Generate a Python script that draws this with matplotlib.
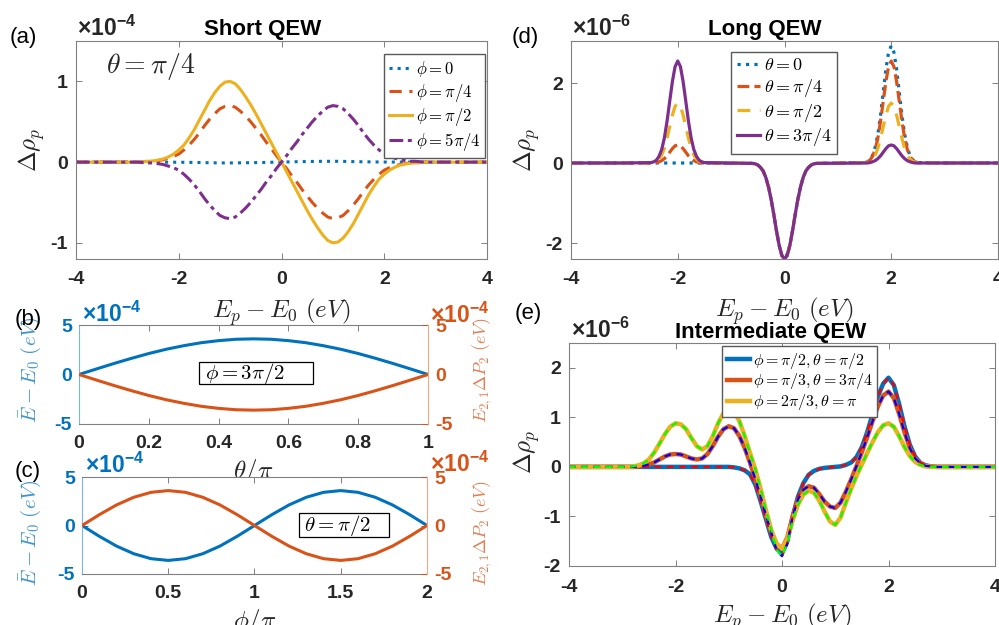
import numpy as np
import matplotlib.pyplot as plt
from matplotlib.patches import Rectangle

plt.rcParams['font.family'] = ['Liberation Sans', 'DejaVu Sans']
plt.rcParams['font.weight'] = 'bold'
plt.rcParams['mathtext.fontset'] = 'cm'
plt.rcParams['mathtext.rm'] = 'Liberation Sans'
plt.rcParams['mathtext.bf'] = 'Liberation Sans:bold'
plt.rcParams['axes.unicode_minus'] = False

BLUE, ORANGE, YELLOW, PURPLE = '#0072BD', '#D95319', '#EDB120', '#7E2F8E'
GRAY = '0.5'
INK = '#262626'

# ---------------- (a) short QEW, theta = pi/4   (units 1e-4)
e_a = np.concatenate([[-4], np.linspace(-3, 3, 61), [4]])
a_phi_0 = [0] + [
    0, 0, 0, 0, 0, 0, 0, 0, -0.001, -0.001,
    -0.002, -0.002, -0.003, -0.004, -0.005, -0.006, -0.008, -0.009, -0.01, -0.01,
    -0.01, -0.01, -0.009, -0.008, -0.007, -0.006, -0.005, -0.004, -0.002, -0.001,
    0,
    0.002, 0.003, 0.005, 0.006, 0.007, 0.008, 0.009, 0.01, 0.01, 0.01,
    0.01, 0.009, 0.008, 0.006, 0.005, 0.004, 0.003, 0.002, 0.002, 0.001,
    0.001, 0.001, 0, 0, 0, 0, 0, 0, 0, 0] + [0]
a_phi_pi4 = [0] + [
    0, 0, 0, 0.005, 0.01, 0.01, 0.02, 0.03, 0.05, 0.07,
    0.10, 0.15, 0.21, 0.28, 0.36, 0.45, 0.53, 0.60, 0.66, 0.69,
    0.70, 0.68, 0.63, 0.57, 0.50, 0.42, 0.34, 0.25, 0.17, 0.08,
    0,
    -0.08, -0.17, -0.25, -0.34, -0.42, -0.50, -0.57, -0.63, -0.68, -0.70,
    -0.69, -0.66, -0.60, -0.53, -0.45, -0.36, -0.28, -0.21, -0.15, -0.10,
    -0.07, -0.05, -0.03, -0.02, -0.01, -0.01, -0.005, 0, 0, 0] + [0]
a_phi_pi2 = [0] + [
    0, 0, 0, 0.005, 0.01, 0.015, 0.025, 0.04, 0.065, 0.10,
    0.15, 0.21, 0.30, 0.40, 0.52, 0.64, 0.76, 0.86, 0.94, 0.99,
    1.00, 0.97, 0.90, 0.81, 0.71, 0.60, 0.48, 0.36, 0.24, 0.12,
    0,
    -0.12, -0.24, -0.36, -0.48, -0.60, -0.71, -0.81, -0.90, -0.97, -1.00,
    -0.99, -0.94, -0.86, -0.76, -0.64, -0.52, -0.40, -0.30, -0.21, -0.15,
    -0.10, -0.065, -0.04, -0.025, -0.015, -0.01, -0.005, 0, 0, 0] + [0]
a_phi_5pi4 = [0] + [
    0, 0, 0, -0.005, -0.01, -0.01, -0.02, -0.03, -0.05, -0.07,
    -0.10, -0.15, -0.21, -0.28, -0.36, -0.45, -0.53, -0.60, -0.66, -0.69,
    -0.70, -0.68, -0.63, -0.57, -0.50, -0.42, -0.34, -0.25, -0.17, -0.08,
    0,
    0.08, 0.17, 0.25, 0.34, 0.42, 0.50, 0.57, 0.63, 0.68, 0.70,
    0.69, 0.66, 0.60, 0.53, 0.45, 0.36, 0.28, 0.21, 0.15, 0.10,
    0.07, 0.05, 0.03, 0.02, 0.01, 0.01, 0.005, 0, 0, 0] + [0]

# ---------------- (b) phi = 3pi/2 and (c) theta = pi/2   (units 1e-4)
theta_b = np.linspace(0, 1, 21)
b_energy = [0, 0.56, 1.11, 1.63, 2.12, 2.55, 2.91, 3.21, 3.42, 3.56, 3.60,
            3.56, 3.42, 3.21, 2.91, 2.55, 2.12, 1.63, 1.11, 0.56, 0]
b_dipole = [0, -0.56, -1.11, -1.63, -2.12, -2.55, -2.91, -3.21, -3.42, -3.56, -3.60,
            -3.56, -3.42, -3.21, -2.91, -2.55, -2.12, -1.63, -1.11, -0.56, 0]
phi_c = np.linspace(0, 2, 21)
c_energy = [0, -1.11, -2.12, -2.91, -3.42, -3.60, -3.42, -2.91, -2.12, -1.11, 0,
            1.11, 2.12, 2.91, 3.42, 3.60, 3.42, 2.91, 2.12, 1.11, 0]
c_dipole = [0, 1.11, 2.12, 2.91, 3.42, 3.60, 3.42, 2.91, 2.12, 1.11, 0,
            -1.11, -2.12, -2.91, -3.42, -3.60, -3.42, -2.91, -2.12, -1.11, 0]

# ---------------- (d) long QEW   (units 1e-6)
e_d = np.concatenate([[-4, -3], np.linspace(-2.5, -1.5, 21), np.linspace(-0.6, 0.6, 25),
                      np.linspace(1.5, 2.5, 21), [3, 4]])
d_dip = [-0.01, -0.02, -0.05, -0.11, -0.20, -0.36, -0.60, -0.91, -1.29, -1.70, -2.06, -2.31, -2.40,
         -2.31, -2.06, -1.70, -1.29, -0.91, -0.60, -0.36, -0.20, -0.11, -0.05, -0.02, -0.01]
d_peak_none = [0] * 21
d_peak_293 = [0.01, 0.03, 0.08, 0.19, 0.40, 0.73, 1.20, 1.78, 2.35, 2.77, 2.93,
              2.77, 2.35, 1.78, 1.20, 0.73, 0.40, 0.19, 0.08, 0.03, 0.01]
d_peak_255 = [0.01, 0.03, 0.07, 0.17, 0.34, 0.63, 1.05, 1.55, 2.04, 2.41, 2.55,
              2.41, 2.04, 1.55, 1.05, 0.63, 0.34, 0.17, 0.07, 0.03, 0.01]
d_peak_150 = [0.01, 0.02, 0.04, 0.10, 0.20, 0.37, 0.62, 0.91, 1.20, 1.42, 1.50,
              1.42, 1.20, 0.91, 0.62, 0.37, 0.20, 0.10, 0.04, 0.02, 0.01]
d_peak_045 = [0, 0, 0.01, 0.03, 0.06, 0.11, 0.18, 0.27, 0.36, 0.43, 0.45,
              0.43, 0.36, 0.27, 0.18, 0.11, 0.06, 0.03, 0.01, 0, 0]
d_theta_0 = [0, 0] + d_peak_none + d_dip + d_peak_293 + [0, 0]
d_theta_pi4 = [0, 0] + d_peak_045 + d_dip + d_peak_255 + [0, 0]
d_theta_pi2 = [0, 0] + d_peak_150 + d_dip + d_peak_150 + [0, 0]
d_theta_3pi4 = [0, 0] + d_peak_255 + d_dip + d_peak_045 + [0, 0]

# ---------------- (e) intermediate QEW   (units 1e-6)
e_e = np.concatenate([[-4], np.linspace(-3, 3, 61), [4]])
e_blue = [0] + [0] * 20 + [
    0, -0.01, -0.03, -0.07, -0.15, -0.36, -0.70, -1.06, -1.42, -1.65,
    -1.74,
    -1.50, -1.00, -0.60, -0.33, -0.16, -0.08, -0.04, -0.02, -0.01, 0,
    0.01, 0.04, 0.09, 0.20, 0.40, 0.70, 1.06, 1.42, 1.68, 1.80,
    1.65, 1.27, 0.82, 0.45, 0.21, 0.08, 0.03, 0.01, 0, 0] + [0]
e_orange = [0] + [
    0, 0, 0, 0.01, 0.02, 0.05, 0.09, 0.15, 0.21, 0.25,
    0.26, 0.25, 0.21, 0.17, 0.15, 0.17, 0.26, 0.42, 0.61, 0.76,
    0.82, 0.78, 0.62, 0.38, 0.08, -0.25, -0.60, -0.98, -1.33, -1.56,
    -1.65,
    -1.42, -1.00, -0.66, -0.46, -0.39, -0.42, -0.55, -0.70, -0.80, -0.83,
    -0.72, -0.50, -0.25, 0.02, 0.30, 0.60, 0.92, 1.22, 1.44, 1.52,
    1.39, 1.07, 0.70, 0.38, 0.17, 0.07, 0.02, 0.01, 0, 0] + [0]
e_yellow = [0] + [
    0, 0, 0.01, 0.03, 0.07, 0.15, 0.29, 0.47, 0.66, 0.81,
    0.88, 0.86, 0.76, 0.58, 0.42, 0.35, 0.42, 0.62, 0.88, 1.08,
    1.17, 1.12, 0.92, 0.62, 0.28, -0.05, -0.45, -0.88, -1.28, -1.55,
    -1.65,
    -1.45, -1.08, -0.76, -0.56, -0.48, -0.52, -0.68, -0.90, -1.10, -1.17,
    -1.02, -0.72, -0.44, -0.18, 0.05, 0.28, 0.50, 0.70, 0.84, 0.88,
    0.81, 0.62, 0.40, 0.22, 0.10, 0.04, 0.01, 0, 0, 0] + [0]
# the thin dashed overlays follow the solid curves but dip a bit deeper at 0
e_dash_dip = [-1.68, -1.80, -1.55]
i0 = int(np.argmin(np.abs(e_e)))
e_blue_dash = np.array(e_blue, dtype=float)
e_orange_dash = np.array(e_orange, dtype=float)
e_yellow_dash = np.array(e_yellow, dtype=float)
for arr in (e_blue_dash, e_orange_dash, e_yellow_dash):
    arr[i0 - 1:i0 + 2] = e_dash_dip


fig = plt.figure(figsize=(9.99, 6.25), dpi=100)


def px(x, y):
    return x / 999, 1 - y / 625


def rect(l, t, r, b):
    return [l / 999, 1 - b / 625, (r - l) / 999, (b - t) / 625]


def frame(ax, xpad=9):
    ax.tick_params(direction='in', length=4, width=0.7, top=True, right=True,
                   labelsize=14, color=GRAY, labelcolor=INK)
    ax.tick_params(axis='x', pad=xpad)
    ax.tick_params(axis='y', pad=6)
    for s in ax.spines.values():
        s.set_color(GRAY)
        s.set_linewidth(0.8)


def sci(x, y, color=INK, exp='-4'):
    fig.text(*px(x, y), r'$\times\mathbf{10^{%s}}$' % exp, fontsize=16.5, color=color,
             math_fontfamily='custom', ha='left', va='baseline')


def letter(x, y, s):
    fig.text(*px(x, y), s, fontsize=16, fontweight='normal', color='black', ha='left', va='center')


leg_kw = dict(loc='upper left', fontsize=13, labelspacing=0.15, handlelength=1.3,
              handletextpad=0.2, borderpad=0.3, borderaxespad=0, fancybox=False,
              framealpha=1, edgecolor='0.35')
lab_kw = dict(fontsize=18, color=INK)

# ---------------- panel (a)
ax_a = fig.add_axes(rect(76, 41, 487, 259))
ax_a.plot(e_a, a_phi_0, ':', color=BLUE, lw=2.2, label=r'$\phi=0$')
ax_a.plot(e_a, a_phi_pi4, '--', color=ORANGE, lw=2.2, dashes=(4, 2.5), label=r'$\phi=\pi/4$')
ax_a.plot(e_a, a_phi_pi2, '-', color=YELLOW, lw=2.2, label=r'$\phi=\pi/2$')
ax_a.plot(e_a, a_phi_5pi4, '-.', color=PURPLE, lw=2.2, dashes=(4.5, 1.5, 1.3, 1.5),
          label=r'$\phi=5\pi/4$')
ax_a.set_xlim(-4, 4)
ax_a.set_ylim(-1.2, 1.5)
ax_a.set_xticks([-4, -2, 0, 2, 4])
ax_a.set_yticks([-1, 0, 1])
frame(ax_a)
ax_a.set_xlabel(r'$E_p-E_0\ (eV)$', **lab_kw)
ax_a.xaxis.set_label_coords(0.5, -0.17)
ax_a.set_ylabel(r'$\Delta\rho_p$', va='center', **lab_kw)
ax_a.yaxis.set_label_coords(-0.107, 0.5)
ax_a.text(0.073, 0.883, r'$\theta=\pi/4$', transform=ax_a.transAxes, fontsize=20,
          ha='left', va='center', color=INK)
ax_a.legend(bbox_to_anchor=(0.749, 0.94), **dict(leg_kw, fontsize=12, handlelength=1.4))

# ---------------- panel (d)
ax_d = fig.add_axes(rect(571, 41, 998, 259))
ax_d.plot(e_d, d_theta_0, ':', color=BLUE, lw=2.3, label=r'$\theta=0$')
ax_d.plot(e_d, d_theta_pi4, '--', color=ORANGE, lw=2.3, label=r'$\theta=\pi/4$')
ax_d.plot(e_d, d_theta_pi2, '--', color=YELLOW, lw=2.3, dashes=(4, 3), label=r'$\theta=\pi/2$')
ax_d.plot(e_d, d_theta_3pi4, '-', color=PURPLE, lw=2.3, label=r'$\theta=3\pi/4$')
ax_d.set_xlim(-4, 4)
ax_d.set_ylim(-2.4, 3.05)
ax_d.set_xticks([-4, -2, 0, 2, 4])
ax_d.set_yticks([-2, 0, 2])
frame(ax_d)
ax_d.set_xlabel(r'$E_p-E_0\ (eV)$', **lab_kw)
ax_d.xaxis.set_label_coords(0.5, -0.165)
ax_d.set_ylabel(r'$\Delta\rho_p$', va='center', **lab_kw)
ax_d.yaxis.set_label_coords(-0.103, 0.5)
ax_d.legend(bbox_to_anchor=(0.375, 0.95), **leg_kw)

# ---------------- panel (e)
ax_e = fig.add_axes(rect(569, 343, 995, 566))
ax_e.plot(e_e, e_blue, '-', color=BLUE, lw=3.2, label=r'$\phi=\pi/2,\theta=\pi/2$')
ax_e.plot(e_e, e_orange, '-', color=ORANGE, lw=3.2, label=r'$\phi=\pi/3,\theta=3\pi/4$')
ax_e.plot(e_e, e_yellow, '-', color=YELLOW, lw=3.2, label=r'$\phi=2\pi/3,\theta=\pi$')
ax_e.plot(e_e, e_blue_dash, '--', color='#FF0000', lw=1.6, dashes=(3, 2.5))
ax_e.plot(e_e, e_orange_dash, '--', color='#0000FF', lw=1.6, dashes=(3, 2.5))
ax_e.plot(e_e, e_yellow_dash, '--', color='#00FF00', lw=1.6, dashes=(3, 2.5))
ax_e.set_xlim(-4, 4)
ax_e.set_ylim(-2, 2.5)
ax_e.set_xticks([-4, -2, 0, 2, 4])
ax_e.set_yticks([-2, -1, 0, 1, 2])
frame(ax_e)
ax_e.set_xlabel(r'$E_p-E_0\ (eV)$', **lab_kw)
ax_e.xaxis.set_label_coords(0.5, -0.16)
ax_e.set_ylabel(r'$\Delta\rho_p$', va='center', **lab_kw)
ax_e.yaxis.set_label_coords(-0.099, 0.51)
ax_e.legend(bbox_to_anchor=(0.36, 0.987),
            **dict(leg_kw, fontsize=11.5, handlelength=1.4, labelspacing=0.05))


# ---------------- panels (b), (c): two y axes
def twin_panel(ax, x, left, right, xticks, xticklabels, xlabel, note, note_box, note_x):
    ax2 = ax.twinx()
    ax.plot(x, left, color=BLUE, lw=2.2)
    ax2.plot(x, right, color=ORANGE, lw=2.2)
    for a in (ax, ax2):
        a.set_ylim(-5, 5)
        a.set_yticks([-5, 0, 5])
    ax.set_xlim(x[0], x[-1])
    ax.set_xticks(xticks)
    ax.set_xticklabels(xticklabels)
    frame(ax, xpad=8)
    ax.tick_params(right=False)
    ax.tick_params(axis='y', colors=BLUE, labelsize=14, pad=5)
    ax.spines['left'].set_color('#7DB4E0')
    ax.spines['right'].set_visible(False)
    ax2.tick_params(axis='y', direction='in', length=4, width=0.7, colors=ORANGE, labelsize=14, pad=5)
    for k in ('left', 'top', 'bottom'):
        ax2.spines[k].set_visible(False)
    ax2.spines['right'].set_color('#ECA98A')
    ax2.spines['right'].set_linewidth(0.8)
    ax.set_xlabel(xlabel, **lab_kw)
    ax.set_ylabel(r'$\bar{E}-E_0\ (eV)$', fontsize=15, color=BLUE, va='center', alpha=0.75)
    ax2.set_ylabel(r'$E_{2,1}\Delta P_2\ (eV)$', fontsize=13, color=ORANGE, va='center',
                   rotation=90, alpha=0.75)
    l, b, r, t = note_box
    ax.add_patch(Rectangle((l, b), r - l, t - b, transform=ax.transAxes, fill=False,
                           ec='black', lw=0.9, zorder=5))
    ax.text(note_x, (b + t) / 2, note, transform=ax.transAxes, fontsize=15,
            ha='left', va='center', color='black', zorder=6)
    return ax2


ax_b = fig.add_axes(rect(79, 325, 428, 424))
ax_b2 = twin_panel(ax_b, theta_b, b_energy, b_dipole, [0, 0.2, 0.4, 0.6, 0.8, 1],
                   ['0', '0.2', '0.4', '0.6', '0.8', '1'], r'$\theta/\pi$',
                   r'$\phi=3\pi/2$', (0.344, 0.40, 0.67, 0.63), 0.36)
ax_b.xaxis.set_label_coords(0.5, -0.33)
ax_b.yaxis.set_label_coords(-0.14, 0.55)
ax_b2.yaxis.set_label_coords(1.155, 0.545)

ax_c = fig.add_axes(rect(82, 477, 427, 574))
ax_c2 = twin_panel(ax_c, phi_c, c_energy, c_dipole, [0, 0.5, 1, 1.5, 2],
                   ['0', '0.5', '1', '1.5', '2'], r'$\phi/\pi$',
                   r'$\theta=\pi/2$', (0.629, 0.38, 0.89, 0.629), 0.643)
ax_c.xaxis.set_label_coords(0.5, -0.34)
ax_c.yaxis.set_label_coords(-0.15, 0.43)
ax_c2.yaxis.set_label_coords(1.159, 0.42)

# ---------------- titles, panel letters, exponents
fig.text(*px(263, 35), 'Short QEW', fontsize=16, ha='center', va='baseline', color='black')
fig.text(*px(765, 35), 'Long QEW', fontsize=16, ha='center', va='baseline', color='black')
fig.text(*px(771, 338), 'Intermediate QEW', fontsize=16, ha='center', va='baseline', color='black')

letter(10, 38, '(a)')
letter(512, 38, '(d)')
letter(15, 320, '(b)')
letter(15, 472, '(c)')
letter(515, 314, '(e)')

sci(77, 36)
sci(572, 36, exp='-6')
sci(571, 338, exp='-6')
sci(82, 322, color=BLUE)
sci(430, 323, color=ORANGE)
sci(85, 473, color=BLUE)
sci(430, 472, color=ORANGE)

fig.savefig('out.png', dpi=100)
